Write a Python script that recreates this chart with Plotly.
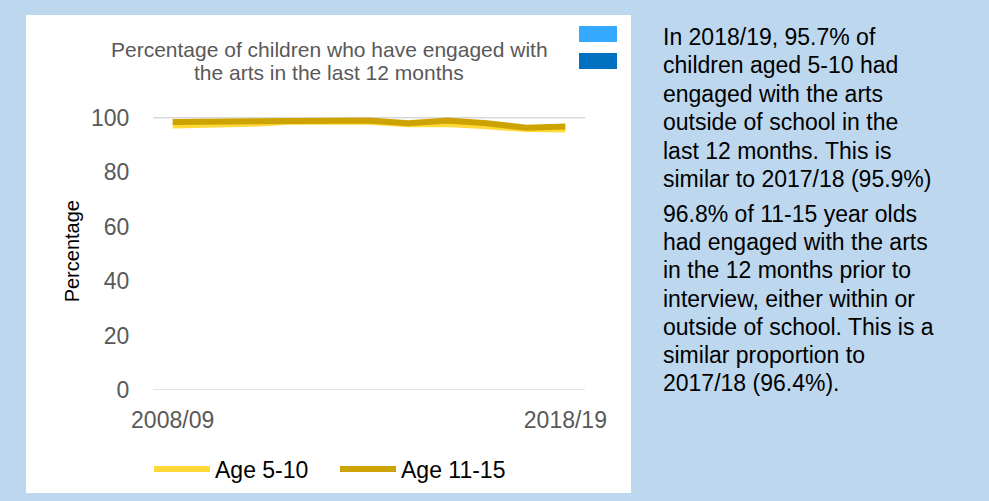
import plotly.graph_objects as go

# Survey years and engagement percentages
years = ["2008/09", "2009/10", "2010/11", "2011/12", "2012/13", "2013/14",
         "2014/15", "2015/16", "2016/17", "2017/18", "2018/19"]
age_5_10 = [97.2, 97.3, 97.8, 98.6, 98.4, 98.6, 97.6, 97.7, 96.9, 95.9, 95.7]
age_11_15 = [98.5, 98.7, 98.9, 99.1, 99.1, 99.0, 98.0, 99.0, 98.0, 96.4, 96.8]

y_ticks = [0, 20, 40, 60, 80, 100]
grid_levels = [0, 100]

title_lines = ["Percentage of children who have engaged with",
               "the arts in the last 12 months"]

para_1 = ["In 2018/19, 95.7% of",
          "children aged 5-10 had",
          "engaged with the arts",
          "outside of school in the",
          "last 12 months. This is",
          "similar to 2017/18 (95.9%)"]
para_2 = ["96.8% of 11-15 year olds",
          "had engaged with the arts",
          "in the 12 months prior to",
          "interview, either within or",
          "outside of school. This is a",
          "similar proportion to",
          "2017/18 (96.4%)."]

W, H = 989, 501
FONT = "Arial, Liberation Sans, sans-serif"
YELLOW = "#FFD939"
GOLD = "#CCA300"
GREY_TEXT = "#595959"


def px(x):
    return x / W


def py(y):
    return 1 - y / H


fig = go.Figure()
fig.add_trace(go.Scatter(x=years, y=age_5_10, name="Age 5-10", mode="lines",
                         line=dict(color=YELLOW, width=6)))
fig.add_trace(go.Scatter(x=years, y=age_11_15, name="Age 11-15", mode="lines",
                         line=dict(color=GOLD, width=6)))

shapes = [
    # white chart panel
    dict(type="rect", xref="paper", yref="paper", layer="below",
         x0=px(26), x1=px(631), y0=py(493), y1=py(15),
         fillcolor="white", line=dict(width=0)),
    # two blue swatches at the top right of the panel
    dict(type="rect", xref="paper", yref="paper",
         x0=px(579), x1=px(617), y0=py(42), y1=py(26),
         fillcolor="#35A8FF", line=dict(width=0)),
    dict(type="rect", xref="paper", yref="paper",
         x0=px(579), x1=px(617), y0=py(69), y1=py(53),
         fillcolor="#0070C0", line=dict(width=0)),
]
for g in grid_levels:
    shapes.append(dict(type="line", xref="x domain", yref="y", layer="below",
                       x0=0, x1=1, y0=g, y1=g,
                       line=dict(color="#D9D9D9", width=1.5)))

annotations = []
for i, t in enumerate(title_lines):
    annotations.append(dict(text=t, xref="paper", yref="paper",
                            x=px(329), y=py(49 + 24 * i),
                            xanchor="center", yanchor="middle", showarrow=False,
                            font=dict(family=FONT, size=21, color=GREY_TEXT)))

for i, t in enumerate(para_1):
    annotations.append(dict(text=t, xref="paper", yref="paper",
                            x=px(661), y=py(37 + 28.4 * i),
                            xanchor="left", yanchor="middle", showarrow=False,
                            font=dict(family=FONT, size=23, color="black")))
for i, t in enumerate(para_2):
    annotations.append(dict(text=t, xref="paper", yref="paper",
                            x=px(661), y=py(214 + 28.2 * i),
                            xanchor="left", yanchor="middle", showarrow=False,
                            font=dict(family=FONT, size=23, color="black")))

fig.update_layout(
    width=W, height=H,
    margin=dict(l=0, r=0, t=0, b=0, autoexpand=False),
    paper_bgcolor="#BDD7EE",
    plot_bgcolor="white",
    shapes=shapes,
    annotations=annotations,
    showlegend=True,
    legend=dict(orientation="h", x=px(335), xanchor="center",
                y=py(469), yanchor="middle",
                font=dict(family=FONT, size=23, color="black"),
                bgcolor="rgba(0,0,0,0)", itemwidth=56, tracegroupgap=0,
                entrywidth=115),
    xaxis=dict(type="category", range=[-0.5, len(years) - 0.5],
               domain=[px(153), px(585)], automargin=False,
               tickvals=[years[0], years[-1]], ticktext=[years[0], years[-1]],
               showgrid=False, zeroline=False, showline=False,
               ticks="outside", ticklen=9, tickcolor="rgba(0,0,0,0)",
               tickfont=dict(family=FONT, size=23, color=GREY_TEXT)),
    yaxis=dict(range=[0, 102], tickvals=y_ticks,
               domain=[py(390), py(112.4)], automargin=False,
               showgrid=False, zeroline=False, showline=False,
               ticks="outside", ticklen=18, tickcolor="rgba(0,0,0,0)",
               tickfont=dict(family=FONT, size=23, color=GREY_TEXT),
               title=dict(text="Percentage", standoff=6,
                          font=dict(family=FONT, size=20, color="black"))),
)

fig.write_html("out.html")
